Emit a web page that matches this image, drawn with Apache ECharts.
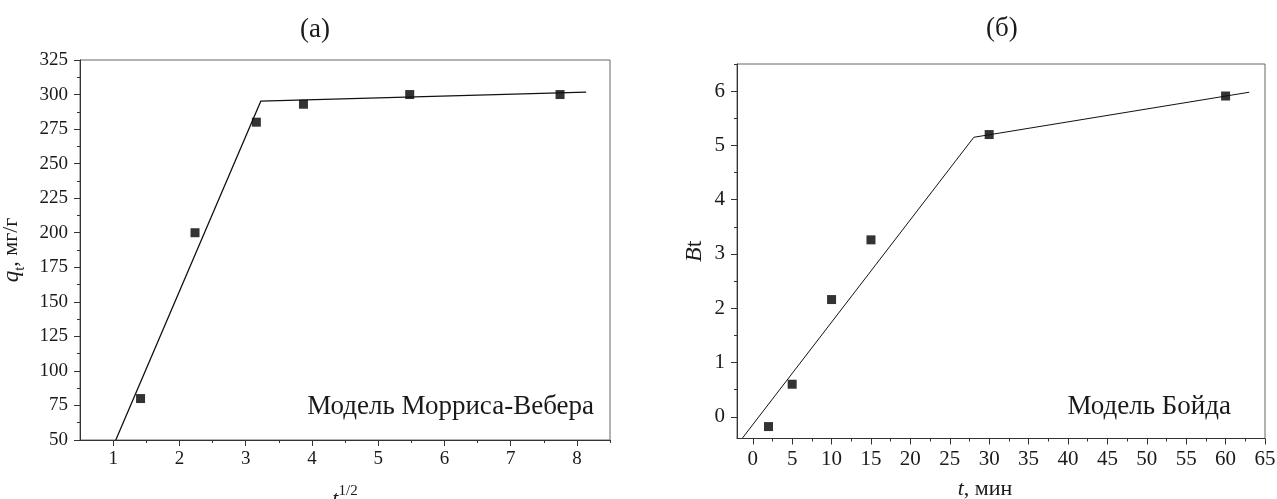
<!DOCTYPE html>
<html>
<head>
<meta charset="utf-8">
<script src="https://cdn.jsdelivr.net/npm/echarts@6/dist/echarts.min.js"></script>
<style>
  html, body { margin: 0; padding: 0; background: #fff; }
  #chart { width: 1277px; height: 499px; }
</style>
</head>
<body>
<div id="chart"></div>
<script>
// (а) Морриса-Вебера: q_t от t^(1/2)
var sqrtT = [1.414, 2.236, 3.162, 3.873, 5.477, 7.746];
var qt = [80, 200, 280, 293, 300, 300];
var wmFitX = [1.04, 3.23, 8.14];
var wmFitY = [50, 295.3, 301.8];
var wmTicks = [1, 2, 3, 4, 5, 6, 7, 8];
var wmMinor = [1.5, 2.5, 3.5, 4.5, 5.5, 6.5, 7.5, 8.5];

// (б) Бойда: Bt от t
var tMin = [2, 5, 10, 15, 30, 60];
var bt = [-0.18, 0.60, 2.16, 3.26, 5.20, 5.91];
var boydFitX = [-1.3, 28.05, 63.0];
var boydFitY = [-0.39, 5.15, 5.98];
var boydXTicks = [0, 5, 10, 15, 20, 25, 30, 35, 40, 45, 50, 55, 60, 65];
var boydXMinor = [2.5, 7.5, 12.5, 17.5, 22.5, 27.5, 32.5, 37.5, 42.5, 47.5, 52.5, 57.5, 62.5];
var boydYTicks = [0, 1, 2, 3, 4, 5, 6];
var boydYMinor = [0.5, 1.5, 2.5, 3.5, 4.5, 5.5, 6.5];

var font = "'Liberation Serif', 'Times New Roman', serif";
var ink = '#1a1a1a';

function pairs(xs, ys) {
  return xs.map(function (x, i) { return [x, ys[i]]; });
}

function mainAxis(gridIndex, min, max, labels, size, margin) {
  return {
    type: 'value', gridIndex: gridIndex, min: min, max: max,
    axisLine: { show: true, onZero: false, lineStyle: { color: '#333', width: 1 } },
    axisTick: { show: true, customValues: labels, length: 6, lineStyle: { color: '#333' } },
    axisLabel: { customValues: labels, color: ink, fontFamily: font, fontSize: size, margin: margin },
    splitLine: { show: false }
  };
}

function minorAxis(gridIndex, min, max, values, pos) {
  return {
    type: 'value', gridIndex: gridIndex, min: min, max: max, position: pos,
    axisLine: { show: false, onZero: false },
    axisTick: { show: true, customValues: values, length: 3, lineStyle: { color: '#333' } },
    axisLabel: { show: false },
    splitLine: { show: false }
  };
}

var dom = document.getElementById('chart');
var myChart = echarts.init(dom);

var wmX = mainAxis(0, 0.5, 8.5, wmTicks, 19, 10);
wmX.name = '{i|t}{sup|1/2}';
wmX.nameLocation = 'middle';
wmX.nameGap = 44;
wmX.nameTextStyle = {
  color: ink, fontFamily: font,
  rich: {
    i: { fontStyle: 'italic', fontSize: 22, fontFamily: font, color: ink, lineHeight: 26, verticalAlign: 'bottom' },
    sup: { fontSize: 15, fontFamily: font, color: ink, lineHeight: 26, verticalAlign: 'top' }
  }
};

var wmY = {
  type: 'value', gridIndex: 0, min: 50, max: 325, interval: 25,
  axisLine: { show: true, onZero: false, lineStyle: { color: '#333', width: 1 } },
  axisTick: { show: true, length: 6, lineStyle: { color: '#333' } },
  minorTick: { show: true, splitNumber: 2, length: 3, lineStyle: { color: '#333' } },
  axisLabel: { color: ink, fontFamily: font, fontSize: 19, margin: 12 },
  splitLine: { show: false },
  name: '{i|q}{sub|t}{n|, мг/г}',
  nameLocation: 'middle',
  nameGap: 52,
  nameTextStyle: {
    color: ink, fontFamily: font,
    rich: {
      i: { fontStyle: 'italic', fontSize: 23, fontFamily: font, color: ink, lineHeight: 28, verticalAlign: 'top' },
      sub: { fontSize: 15, fontFamily: font, color: ink, lineHeight: 28, verticalAlign: 'bottom' },
      n: { fontSize: 22, fontFamily: font, color: ink, lineHeight: 28, verticalAlign: 'top' }
    }
  }
};

var bX = mainAxis(1, -2, 65, boydXTicks, 21, 10);
bX.name = '{i|t}{n|, мин}';
bX.nameLocation = 'middle';
bX.nameGap = 40;
bX.nameTextStyle = {
  color: ink, fontFamily: font, padding: [0, 32, 0, 0],
  rich: {
    i: { fontStyle: 'italic', fontSize: 22, fontFamily: font, color: ink },
    n: { fontSize: 22, fontFamily: font, color: ink }
  }
};

var bY = mainAxis(1, -0.4, 6.5, boydYTicks, 21, 12);
bY.name = '{i|B}{n|t}';
bY.nameLocation = 'middle';
bY.nameGap = 30;
bY.nameTextStyle = {
  color: ink, fontFamily: font,
  rich: {
    i: { fontStyle: 'italic', fontSize: 24, fontFamily: font, color: ink },
    n: { fontSize: 24, fontFamily: font, color: ink }
  }
};

var option = {
  animation: false,
  backgroundColor: '#fff',
  grid: [
    { left: 80, top: 60, width: 530, height: 380, show: true, borderColor: '#666', borderWidth: 1, containLabel: false, outerBoundsMode: 'none' },
    { left: 737, top: 64, width: 528, height: 374.5, show: true, borderColor: '#666', borderWidth: 1, containLabel: false, outerBoundsMode: 'none' }
  ],
  xAxis: [
    wmX,
    minorAxis(0, 0.5, 8.5, wmMinor, 'bottom'),
    bX,
    minorAxis(1, -2, 65, boydXMinor, 'bottom')
  ],
  yAxis: [
    wmY,
    bY,
    minorAxis(1, -0.4, 6.5, boydYMinor, 'left')
  ],
  series: [
    {
      type: 'line', xAxisIndex: 0, yAxisIndex: 0,
      data: pairs(wmFitX, wmFitY),
      showSymbol: false, symbol: 'none',
      lineStyle: { color: '#111', width: 1.3 }
    },
    {
      type: 'scatter', xAxisIndex: 0, yAxisIndex: 0,
      data: pairs(sqrtT, qt),
      symbol: 'rect', symbolSize: 9,
      itemStyle: { color: '#000' }
    },
    {
      type: 'line', xAxisIndex: 2, yAxisIndex: 1,
      data: pairs(boydFitX, boydFitY),
      showSymbol: false, symbol: 'none',
      lineStyle: { color: '#111', width: 1 }
    },
    {
      type: 'scatter', xAxisIndex: 2, yAxisIndex: 1,
      data: pairs(tMin, bt),
      symbol: 'rect', symbolSize: 9,
      itemStyle: { color: '#000' }
    }
  ],
  graphic: [
    { type: 'text', left: 300, top: 16, style: { text: '(а)', fontSize: 27, fontFamily: font, fill: ink } },
    { type: 'text', left: 986, top: 15, style: { text: '(б)', fontSize: 27, fontFamily: font, fill: ink } },
    { type: 'text', right: 1277 - 594, top: 393, style: { text: 'Модель Морриса-Вебера', fontSize: 27, fontFamily: font, fill: ink } },
    { type: 'text', right: 1277 - 1231, top: 393, style: { text: 'Модель Бойда', fontSize: 27, fontFamily: font, fill: ink } }
  ]
};

if (option && typeof option === 'object') {
  myChart.setOption(option, true);
}
</script>
</body>
</html>
